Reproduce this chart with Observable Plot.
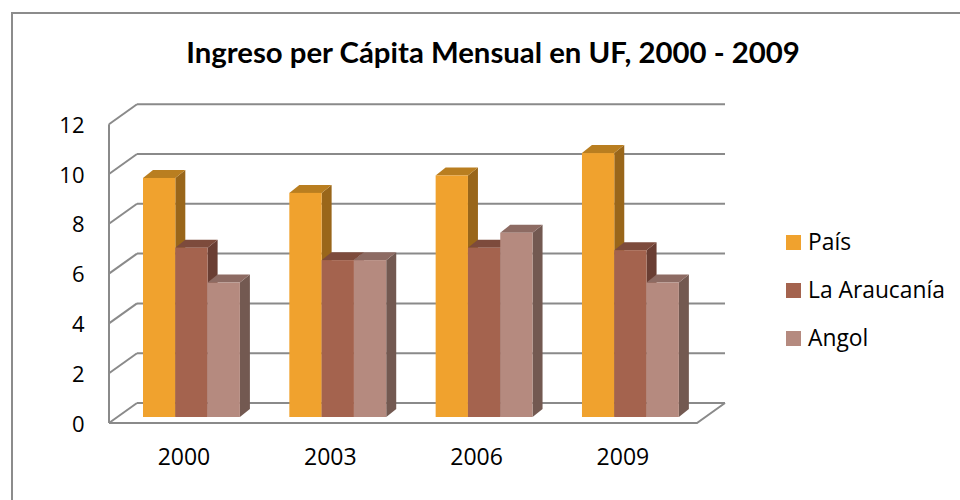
<!DOCTYPE html>
<html>
<head>
<meta charset="utf-8">
<script src="https://cdn.jsdelivr.net/npm/d3@7"></script>
<script src="https://cdn.jsdelivr.net/npm/@observablehq/plot@0.6"></script>
<style>
  html, body { margin: 0; padding: 0; background: #fff; }
  #wrap { position: relative; width: 960px; height: 500px; overflow: hidden; font-family: "Open Sans", Lato, sans-serif; color: #000; }
  #frame { position: absolute; left: 11px; top: 12px; width: 1000px; height: 600px; border: 2px solid #8c8c8c; box-sizing: border-box; }
  #chart { position: absolute; left: 0; top: 0; }
  .txt { position: absolute; white-space: nowrap; line-height: normal; }
  #title { font-family: Lato, "Open Sans", sans-serif; font-weight: bold; }
  .swatch { position: absolute; width: 15px; height: 15px; }
</style>
</head>
<body>
<div id="wrap">
  <div id="frame"></div>
  <div id="chart"></div>
  <div id="title" class="txt">Ingreso per Cápita Mensual en UF, 2000 - 2009</div>
  <div id="legend"></div>
</div>
<script>
// ---- data ----
const years = ["2000", "2003", "2006", "2009"];
const series = ["País", "La Araucanía", "Angol"];
const pais = [9.6, 9.0, 9.7, 10.6];
const araucania = [6.8, 6.3, 6.8, 6.7];
const angol = [5.4, 6.3, 7.4, 5.4];
const yTicks = [0, 2, 4, 6, 8, 10, 12];

// ---- styles ----
const frontColors = ["#F0A22E", "#A4634E", "#B58A7F"];
const topColors = ["#B97E20", "#7D4B3C", "#8D6B63"];
const sideColors = ["#99661A", "#6A3E33", "#735951"];
const gridColor = "#8a8a8a";

const seriesValues = [pais, araucania, angol];
const rows = years.flatMap((year, gi) =>
  series.map((s, si) => ({year, series: s, gi, si, value: seriesValues[si][gi]}))
);

const STEP = 4.53;               // group step, in bar widths
const bx1 = d => d.gi * STEP + d.si;
const bx2 = d => d.gi * STEP + d.si + 1;
const groupCenter = (d, i) => i * STEP + 1.5;

// 3D offsets in pixels (relative to bar plane)
const FRONT = [-8, 6], BACK = [20, -14], DEPTH = [10, -8];

function walls(index, scales, values, dimensions) {
  const {y} = scales;
  const {width, marginLeft, marginRight} = dimensions;
  const X0 = marginLeft, X1 = width - marginRight;
  const g = d3.create("svg:g").attr("fill", "none").attr("stroke", gridColor).attr("stroke-width", 2);
  for (const v of yTicks) {
    const yv = y(v);
    g.append("line")
      .attr("x1", X0 + BACK[0]).attr("x2", X1 + BACK[0])
      .attr("y1", yv + BACK[1]).attr("y2", yv + BACK[1]);
    g.append("line")
      .attr("x1", X0 + FRONT[0]).attr("x2", X0 + BACK[0])
      .attr("y1", yv + FRONT[1]).attr("y2", yv + BACK[1]);
  }
  const ytop = y(d3.max(yTicks)), y0 = y(0);
  g.append("line")
    .attr("x1", X0 + FRONT[0]).attr("x2", X0 + FRONT[0])
    .attr("y1", ytop + FRONT[1]).attr("y2", y0 + FRONT[1]);
  g.append("polyline")
    .attr("points", [[X0 + FRONT[0], y0 + FRONT[1]], [X1 + FRONT[0], y0 + FRONT[1]], [X1 + BACK[0], y0 + BACK[1]]].join(" "));
  return g.node();
}

function extrude(index, scales) {
  const {x, y} = scales;
  const g = d3.create("svg:g");
  const y0 = y(0);
  for (const d of rows) {
    const X1 = x(bx1(d)), X2 = x(bx2(d)), Y = y(d.value);
    g.append("polygon")
      .attr("fill", sideColors[d.si])
      .attr("points", [[X2, Y], [X2 + DEPTH[0], Y + DEPTH[1]], [X2 + DEPTH[0], y0 + DEPTH[1]], [X2, y0]].join(" "));
    g.append("polygon")
      .attr("fill", topColors[d.si])
      .attr("points", [[X1, Y], [X2, Y], [X2 + DEPTH[0], Y + DEPTH[1]], [X1 + DEPTH[0], Y + DEPTH[1]]].join(" "));
  }
  return g.node();
}

const chart = Plot.plot({
  width: 960,
  height: 500,
  marginLeft: 117,
  marginRight: 255,
  marginTop: 118.2,
  marginBottom: 83,
  x: {domain: [-0.805, 17.399], axis: null},
  y: {domain: [0, 12], axis: null},
  color: {domain: series, range: frontColors},
  style: {fontFamily: "'Open Sans', Lato, sans-serif", fontSize: "22px", color: "#000", background: "transparent", overflow: "visible"},
  marks: [
    walls,
    extrude,
    Plot.rect(rows, {x1: bx1, x2: bx2, y1: 0, y2: "value", fill: "series"}),
    Plot.text(yTicks, {y: d => d, frameAnchor: "left", textAnchor: "end", lineAnchor: "middle", dx: -33, dy: 7, text: d => String(d), fill: "#000"}),
    Plot.text(years, {x: groupCenter, frameAnchor: "bottom", lineAnchor: "middle", dx: -8, dy: 40, text: d => d, fill: "#000", fontSize: 23})
  ]
});
document.getElementById("chart").appendChild(chart);

// ---- title & legend (HTML) ----
function baselineOf(el) {
  const probe = document.createElement("span");
  probe.style.cssText = "display:inline-block;width:0;height:0;vertical-align:baseline;";
  el.appendChild(probe);
  const off = probe.offsetTop;
  probe.remove();
  return off;
}
function fitWidth(el, target, fs) {
  el.style.fontSize = fs + "px";
  const w = el.getBoundingClientRect().width;
  const nfs = fs * target / w;
  el.style.fontSize = nfs + "px";
  return nfs;
}

const title = document.getElementById("title");
fitWidth(title, 614, 28);
const tw = title.getBoundingClientRect().width;
title.style.left = (493 - tw / 2) + "px";
title.style.top = (63.3 - baselineOf(title)) + "px";

const legend = document.getElementById("legend");
const legendItems = series.map((s, i) => {
  const cy = 250 + i * 48;
  const sw = document.createElement("div");
  sw.className = "swatch";
  sw.style.background = frontColors[i];
  sw.style.left = "786px";
  sw.style.top = (cy - 15) + "px";
  legend.appendChild(sw);
  const t = document.createElement("div");
  t.className = "txt";
  t.textContent = s;
  t.style.left = "808px";
  legend.appendChild(t);
  return {t, cy};
});
// size legend text so that the longest label matches the reference width
const lfs = fitWidth(legendItems[1].t, 137, 21);
legendItems.forEach(({t, cy}) => {
  t.style.fontSize = lfs + "px";
  t.style.top = (cy - baselineOf(t)) + "px";
});
</script>
</body>
</html>
